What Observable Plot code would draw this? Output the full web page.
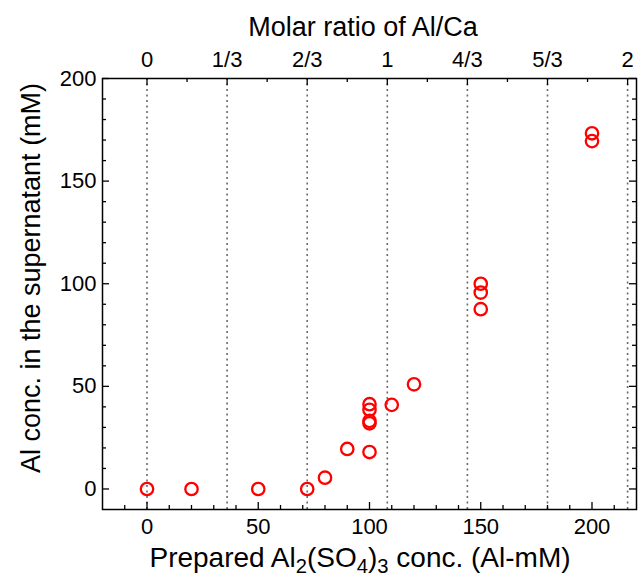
<!DOCTYPE html>
<html>
<head>
<meta charset="utf-8">
<script src="https://cdn.jsdelivr.net/npm/d3@7"></script>
<script src="https://cdn.jsdelivr.net/npm/@observablehq/plot@0.6"></script>
<style>
  body { margin: 0; background: #fff; }
  #chart { width: 639px; height: 581px; }
</style>
</head>
<body>
<div id="chart"></div>
<script>
// Data
const prepared = [0, 20, 50, 72, 80, 90, 100, 100, 100, 100, 100, 110, 120, 150, 150, 150, 200, 200];
const supernatant = [0, 0, 0, 0, 5.5, 19.5, 18, 32, 33.2, 38.6, 41.3, 41, 51, 87.6, 95.7, 100, 169.5, 173.3];

const xTicks = [0, 50, 100, 150, 200];
const yTicks = [0, 50, 100, 150, 200];
const ratioPositions = [0, 36, 72, 108, 144, 180, 216];
const ratioLabels = ["0", "1/3", "2/3", "1", "4/3", "5/3", "2"];
const xMinor = d3.range(-10, 220, 10).filter(v => !xTicks.includes(v));
const yMinor = d3.range(10, 200, 10).filter(v => !yTicks.includes(v));
const topMinor = [18, 54, 90, 126, 162, 198];

const points = prepared.map((x, i) => ({x, y: supernatant[i]}));
const ratios = ratioPositions.map((p, i) => ({p, label: ratioLabels[i]}));

const W = 639, H = 581;
const mL = 102, mR = 3, mT = 78, mB = 72;
const pw = W - mL - mR, ph = H - mT - mB;
const font = "Liberation Sans, Arial, sans-serif";
const tickFont = 22;
const titleFont = 27;
const majorLen = 7, minorLen = 4;

const plot = Plot.plot({
  width: W,
  height: H,
  marginLeft: mL,
  marginRight: mR,
  marginTop: mT,
  marginBottom: mB,
  style: {fontFamily: font, background: "#fff", color: "#000"},
  x: {domain: [-20, 220], axis: null},
  y: {domain: [-10, 200], axis: null},
  marks: [
    // dotted guide lines at molar ratios
    Plot.ruleX(ratioPositions, {stroke: "#6a6a6a", strokeWidth: 1.6, strokeDasharray: "2,3.5"}),
    // ticks: bottom (inward)
    Plot.tickX(xTicks, {x: d => d, stroke: "#000", strokeWidth: 1.3, insetTop: ph - majorLen}),
    Plot.tickX(xMinor, {x: d => d, stroke: "#000", strokeWidth: 1.3, insetTop: ph - minorLen}),
    // ticks: top (inward)
    Plot.tickX(ratioPositions, {x: d => d, stroke: "#000", strokeWidth: 1.3, insetBottom: ph - majorLen}),
    Plot.tickX(topMinor, {x: d => d, stroke: "#000", strokeWidth: 1.3, insetBottom: ph - minorLen}),
    // ticks: left & right (inward)
    Plot.tickY(yTicks, {y: d => d, stroke: "#000", strokeWidth: 1.3, insetRight: pw - majorLen}),
    Plot.tickY(yMinor, {y: d => d, stroke: "#000", strokeWidth: 1.3, insetRight: pw - minorLen}),
    Plot.tickY(yTicks, {y: d => d, stroke: "#000", strokeWidth: 1.3, insetLeft: pw - majorLen}),
    Plot.tickY(yMinor, {y: d => d, stroke: "#000", strokeWidth: 1.3, insetLeft: pw - minorLen}),
    Plot.frame({stroke: "#000", strokeWidth: 1.5}),
    // data
    Plot.dot(points, {x: "x", y: "y", r: 6.2, stroke: "#ff0000", strokeWidth: 2.3, fill: "none"}),
    // axes labels
    Plot.axisX(xTicks, {anchor: "bottom", tickSize: 0, tickPadding: 9, fontSize: tickFont, label: null, fill: "#000"}),
    Plot.axisY(yTicks, {anchor: "left", tickSize: 0, tickPadding: 6, fontSize: tickFont, label: null, fill: "#000"}),
    Plot.text(ratios, {x: "p", text: "label", frameAnchor: "top", dy: -27, fontSize: tickFont, fill: "#000"})
  ]
});

document.getElementById("chart").appendChild(plot);

const svg = d3.select(plot);

// Top title
svg.append("text")
  .attr("x", 363)
  .attr("y", 36)
  .attr("text-anchor", "middle")
  .attr("font-family", font)
  .attr("font-size", titleFont)
  .attr("fill", "#000")
  .text("Molar ratio of Al/Ca");

// Y title
svg.append("text")
  .attr("transform", "translate(40,278) rotate(-90)")
  .attr("text-anchor", "middle")
  .attr("font-family", font)
  .attr("font-size", titleFont)
  .attr("fill", "#000")
  .text("Al conc. in the supernatant (mM)");

// Bottom title with subscripts
const bFont = 28;
const t = svg.append("text")
  .attr("x", 360)
  .attr("y", H - 14)
  .attr("text-anchor", "middle")
  .attr("font-family", font)
  .attr("font-size", bFont)
  .attr("fill", "#000");
t.append("tspan").text("Prepared Al");
t.append("tspan").attr("font-size", bFont * 0.72).attr("dy", 6).text("2");
t.append("tspan").attr("dy", -6).text("(SO");
t.append("tspan").attr("font-size", bFont * 0.72).attr("dy", 6).text("4");
t.append("tspan").attr("dy", -6).text(")");
t.append("tspan").attr("font-size", bFont * 0.72).attr("dy", 6).text("3");
t.append("tspan").attr("dy", -6).text(" conc. (Al-mM)");
</script>
</body>
</html>
